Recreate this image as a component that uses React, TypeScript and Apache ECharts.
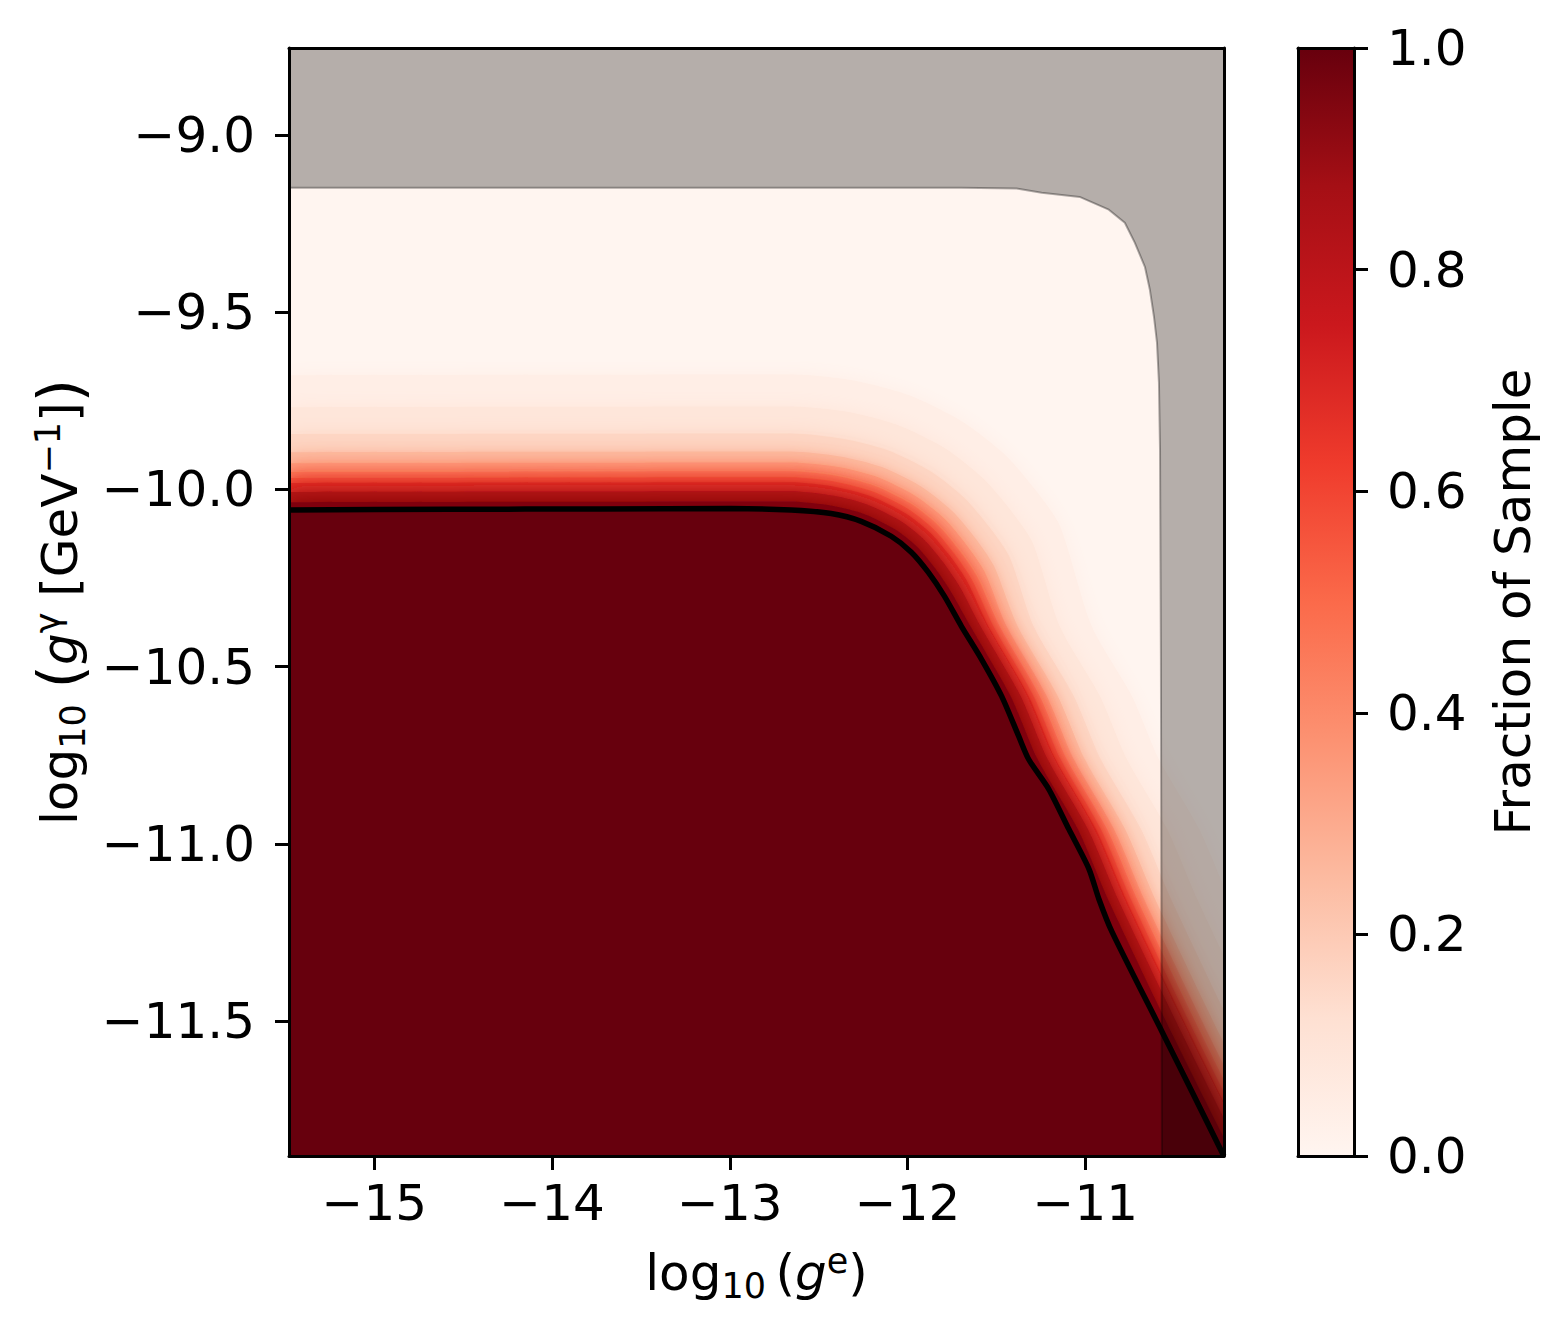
import React, { useEffect, useRef } from "react";
import * as echarts from "echarts";

const FONT = "DejaVu Sans";

// axis ranges and ticks
const X_MIN = -15.48;
const X_MAX = -10.22;
const Y_MIN = -11.88;
const Y_MAX = -8.755;
const xTicks = [-15, -14, -13, -12, -11];
const yTicks = [-11.5, -11.0, -10.5, -10.0, -9.5, -9.0];
const cbTicks = [0, 0.2, 0.4, 0.6, 0.8, 1.0];

// matplotlib "Reds" colour stops
const redsStops = ["#fff5f0", "#fee0d2", "#fcbba1", "#fc9272", "#fb6a4a", "#ef3b2c", "#cb181d", "#a50f15", "#67000d"];

// black contour: edge of the fully-covered region (fraction ~1)
const boundaryContour = [
  [-15.48, -10.058], [-14.573, -10.056], [-13.727, -10.055], [-12.994, -10.054], [-12.655, -10.058],
  [-12.43, -10.068], [-12.261, -10.09], [-12.092, -10.132], [-11.979, -10.177], [-11.883, -10.234],
  [-11.793, -10.301], [-11.697, -10.386], [-11.584, -10.479], [-11.471, -10.583], [-11.375, -10.696],
  [-11.319, -10.761], [-11.206, -10.845], [-11.093, -10.958], [-10.98, -11.07], [-10.924, -11.155],
  [-10.85, -11.248], [-10.568, -11.53], [-10.4, -11.699], [-10.221, -11.88],
];

// fraction contour levels
const levelValues = [0.02, 0.06, 0.12, 0.2, 0.3, 0.4, 0.5, 0.6, 0.75, 0.9];
// fraction of the band lying just below each level contour
const bandValues = [0.04, 0.09, 0.16, 0.25, 0.35, 0.45, 0.55, 0.675, 0.825, 0.95];

const contour002 = [
  [-15.48, -9.678], [-12.655, -9.676], [-12.312, -9.692], [-11.988, -9.735], [-11.691, -9.809], [-11.448, -9.904],
  [-11.274, -10.006], [-11.143, -10.103], [-10.964, -10.386], [-10.738, -10.583], [-10.586, -10.761],
  [-10.36, -10.958], [-10.191, -11.155], [-9.835, -11.53], [-9.488, -11.88],
];
const contour006 = [
  [-15.48, -9.768], [-12.655, -9.766], [-12.34, -9.781], [-12.053, -9.819], [-11.786, -9.885], [-11.574, -9.969],
  [-11.418, -10.06], [-11.297, -10.15], [-11.144, -10.386], [-10.918, -10.583], [-10.766, -10.761],
  [-10.54, -10.958], [-10.371, -11.155], [-10.015, -11.53], [-9.668, -11.88],
];
const contour012 = [
  [-15.48, -9.844], [-12.655, -9.842], [-12.364, -9.857], [-12.108, -9.89], [-11.866, -9.95], [-11.68, -10.024],
  [-11.54, -10.106], [-11.427, -10.19], [-11.291, -10.386], [-11.065, -10.583], [-10.913, -10.761],
  [-10.687, -10.958], [-10.518, -11.155], [-10.162, -11.53], [-9.815, -11.88],
];
const contour020 = [
  [-15.48, -9.895], [-12.655, -9.893], [-12.379, -9.907], [-12.144, -9.937], [-11.92, -9.993], [-11.751, -10.06],
  [-11.621, -10.136], [-11.514, -10.216], [-11.381, -10.386], [-11.155, -10.583], [-11.003, -10.761],
  [-10.777, -10.958], [-10.608, -11.155], [-10.252, -11.53], [-9.905, -11.88],
];
const contour030 = [
  [-15.48, -9.926], [-12.655, -9.924], [-12.389, -9.937], [-12.166, -9.966], [-11.952, -10.02], [-11.794, -10.082],
  [-11.671, -10.155], [-11.567, -10.232], [-11.443, -10.386], [-11.217, -10.583], [-11.065, -10.761],
  [-10.839, -10.958], [-10.67, -11.155], [-10.314, -11.53], [-9.967, -11.88],
];
const contour040 = [
  [-15.48, -9.951], [-12.655, -9.949], [-12.397, -9.962], [-12.184, -9.99], [-11.979, -10.041], [-11.83, -10.1],
  [-11.712, -10.17], [-11.61, -10.245], [-11.483, -10.386], [-11.257, -10.583], [-11.105, -10.761],
  [-10.879, -10.958], [-10.71, -11.155], [-10.354, -11.53], [-10.007, -11.88],
];
const contour050 = [
  [-15.48, -9.968], [-12.655, -9.966], [-12.402, -9.979], [-12.196, -10.006], [-11.997, -10.055], [-11.853, -10.112],
  [-11.739, -10.18], [-11.639, -10.254], [-11.517, -10.386], [-11.291, -10.583], [-11.139, -10.761],
  [-10.913, -10.958], [-10.744, -11.155], [-10.388, -11.53], [-10.041, -11.88],
];
const contour060 = [
  [-15.48, -9.982], [-12.655, -9.98], [-12.406, -9.993], [-12.207, -10.019], [-12.012, -10.067], [-11.873, -10.122],
  [-11.761, -10.188], [-11.663, -10.261], [-11.545, -10.386], [-11.319, -10.583], [-11.167, -10.761],
  [-10.941, -10.958], [-10.772, -11.155], [-10.416, -11.53], [-10.069, -11.88],
];
const contour075 = [
  [-15.48, -10.007], [-12.655, -10.005], [-12.414, -10.018], [-12.225, -10.043], [-12.039, -10.089], [-11.908, -10.141],
  [-11.802, -10.204], [-11.706, -10.275], [-11.59, -10.386], [-11.364, -10.583], [-11.212, -10.761],
  [-10.986, -10.958], [-10.817, -11.155], [-10.461, -11.53], [-10.114, -11.88],
];
const contour090 = [
  [-15.48, -10.036], [-12.655, -10.034], [-12.423, -10.046], [-12.245, -10.069], [-12.068, -10.113], [-11.948, -10.161],
  [-11.847, -10.221], [-11.755, -10.289], [-11.646, -10.386], [-11.42, -10.583], [-11.268, -10.761],
  [-11.042, -10.958], [-10.873, -11.155], [-10.517, -11.53], [-10.168, -11.88],
];
const levelContours = [
  contour002, contour006, contour012, contour020, contour030,
  contour040, contour050, contour060, contour075, contour090,
];

// edge of the excluded (grey) region
const greyBoundary = [
  [-15.48, -9.149], [-11.697, -9.149], [-11.387, -9.151], [-11.246, -9.163], [-11.032, -9.175],
  [-10.868, -9.211], [-10.778, -9.248], [-10.722, -9.304], [-10.665, -9.372], [-10.637, -9.437],
  [-10.614, -9.513], [-10.597, -9.586], [-10.586, -9.699], [-10.58, -9.887], [-10.575, -10.479],
  [-10.569, -11.88],
];

function hexToRgb(h: string) {
  return [parseInt(h.slice(1, 3), 16), parseInt(h.slice(3, 5), 16), parseInt(h.slice(5, 7), 16)];
}
function reds(v: number) {
  const t = Math.max(0, Math.min(1, v)) * 8;
  const i = Math.min(7, Math.floor(t));
  const f = t - i;
  const a = hexToRgb(redsStops[i]);
  const b = hexToRgb(redsStops[i + 1]);
  const c = a.map((av, k) => Math.round(av + (b[k] - av) * f));
  return `rgb(${c[0]},${c[1]},${c[2]})`;
}

const minus = (s: string) => s.replace("-", "\u2212");

const rich = {
  t: { fontSize: 50, fontFamily: FONT, color: "#000", lineHeight: 60, verticalAlign: "middle" },
  sp: { fontSize: 30, fontFamily: FONT, color: "#000", lineHeight: 30, verticalAlign: "middle" },
  it: { fontSize: 50, fontFamily: FONT, fontStyle: "italic", color: "#000", lineHeight: 60, verticalAlign: "middle" },
  par: { fontSize: 60, fontFamily: FONT, color: "#000", lineHeight: 60, verticalAlign: "middle" },
  sub: { fontSize: 35, fontFamily: FONT, color: "#000", lineHeight: 35, padding: [26, 0, 0, 0], verticalAlign: "middle" },
  sup: { fontSize: 35, fontFamily: FONT, color: "#000", lineHeight: 35, padding: [0, 0, 24, 0], verticalAlign: "middle" },
};

function buildOption() {
  const frameLine = { show: true, onZero: false, lineStyle: { color: "#000", width: 3 } };
  const labelStyle = { fontSize: 50, fontFamily: FONT, color: "#000" };

  const bandSeries = levelContours.map((data, i) => ({
    type: "line",
    name: `level ${levelValues[i]}`,
    xAxisIndex: 0,
    yAxisIndex: 0,
    z: 2,
    data,
    symbol: "none",
    showSymbol: false,
    smooth: 0.25,
    silent: true,
    lineStyle: { width: 0, opacity: 0 },
    areaStyle: {
      color: reds(bandValues[i]),
      opacity: 1,
      origin: "start",
      shadowBlur: 18,
      shadowColor: reds(bandValues[i]),
    },
  }));

  const greyPolygon = [[X_MIN, Y_MAX], ...greyBoundary, [X_MAX, Y_MIN], [X_MAX, Y_MAX]];

  return {
    animation: false,
    backgroundColor: "#fff",
    grid: [
      { left: 289, top: 48, width: 935, height: 1108, show: true, backgroundColor: reds(0), borderWidth: 0 },
      { left: 1298, top: 48, width: 56, height: 1108, show: false },
    ],
    xAxis: [
      {
        gridIndex: 0, type: "value", min: X_MIN, max: X_MAX, position: "bottom", z: 10,
        axisLine: frameLine,
        axisTick: { show: true, length: 14, inside: false, customValues: xTicks, lineStyle: { color: "#000", width: 3 } },
        axisLabel: { show: true, customValues: xTicks, margin: 22, formatter: (v: number) => minus(v.toFixed(0)), ...labelStyle },
        splitLine: { show: false },
        name: "{t|log}{sub|10}{sp| }{t|(}{it|g}{sup|e}{t|)}",
        nameLocation: "middle",
        nameGap: 87,
        nameTextStyle: { color: "#000", fontFamily: FONT, rich },
      },
      {
        gridIndex: 1, type: "value", min: 0, max: 1, position: "bottom", z: 10,
        axisLine: frameLine, axisTick: { show: false }, axisLabel: { show: false }, splitLine: { show: false },
      },
      {
        gridIndex: 0, type: "value", min: X_MIN, max: X_MAX, position: "top", z: 10,
        axisLine: frameLine, axisTick: { show: false }, axisLabel: { show: false }, splitLine: { show: false },
      },
      {
        gridIndex: 1, type: "value", min: 0, max: 1, position: "top", z: 10,
        axisLine: frameLine, axisTick: { show: false }, axisLabel: { show: false }, splitLine: { show: false },
      },
    ],
    yAxis: [
      {
        gridIndex: 0, type: "value", min: Y_MIN, max: Y_MAX, position: "left", z: 10,
        axisLine: frameLine,
        axisTick: { show: true, length: 14, inside: false, customValues: yTicks, lineStyle: { color: "#000", width: 3 } },
        axisLabel: { show: true, customValues: yTicks, margin: 34, formatter: (v: number) => minus(v.toFixed(1)), ...labelStyle },
        splitLine: { show: false },
        name: "{t|log}{sub|10}{t| }{par|(}{it|g}{sup|\u03b3}{t| [GeV}{sup|\u22121}{t|]}{par|)}",
        nameLocation: "middle",
        nameRotate: 90,
        nameGap: 193,
        nameTextStyle: { color: "#000", fontFamily: FONT, rich },
      },
      {
        gridIndex: 1, type: "value", min: 0, max: 1, interval: 0.2, position: "right", z: 10,
        axisLine: frameLine,
        axisTick: { show: true, length: 14, inside: false, lineStyle: { color: "#000", width: 3 } },
        axisLabel: { show: true, margin: 33, formatter: (v: number) => v.toFixed(1), ...labelStyle },
        splitLine: { show: false },
        name: "Fraction of Sample",
        nameLocation: "middle",
        nameRotate: 90,
        nameGap: 134,
        nameTextStyle: { fontSize: 50, fontFamily: FONT, color: "#000" },
      },
      {
        gridIndex: 0, type: "value", min: Y_MIN, max: Y_MAX, position: "right", z: 10,
        axisLine: frameLine, axisTick: { show: false }, axisLabel: { show: false }, splitLine: { show: false },
      },
      {
        gridIndex: 1, type: "value", min: 0, max: 1, position: "left", z: 10,
        axisLine: frameLine, axisTick: { show: false }, axisLabel: { show: false }, splitLine: { show: false },
      },
    ],
    series: [
      ...bandSeries,
      {
        type: "line",
        name: "full coverage",
        xAxisIndex: 0,
        yAxisIndex: 0,
        z: 2,
        data: boundaryContour,
        symbol: "none",
        showSymbol: false,
        smooth: 0.25,
        silent: true,
        lineStyle: { width: 0, opacity: 0 },
        areaStyle: { color: reds(1), opacity: 1, origin: "start" },
      },
      {
        type: "line",
        name: "contour",
        xAxisIndex: 0,
        yAxisIndex: 0,
        z: 3,
        data: boundaryContour,
        symbol: "none",
        showSymbol: false,
        smooth: 0.25,
        silent: true,
        lineStyle: { color: "#000", width: 5.5 },
      },
      {
        type: "custom",
        name: "excluded",
        xAxisIndex: 0,
        yAxisIndex: 0,
        z: 4,
        clip: true,
        silent: true,
        data: [[X_MIN, Y_MIN]],
        renderItem: (_params: any, api: any) => ({
          type: "polygon",
          shape: { points: greyPolygon.map((p) => api.coord(p)) },
          style: { fill: "rgba(0,0,0,0.29)" },
        }),
      },
      {
        type: "line",
        name: "excluded edge",
        xAxisIndex: 0,
        yAxisIndex: 0,
        z: 5,
        data: greyBoundary,
        symbol: "none",
        showSymbol: false,
        silent: true,
        lineStyle: { color: "rgba(0,0,0,0.32)", width: 2 },
      },
      {
        type: "custom",
        name: "colorbar",
        xAxisIndex: 1,
        yAxisIndex: 1,
        silent: true,
        data: [[0, 0]],
        renderItem: (_params: any, api: any) => {
          const p0 = api.coord([0, cbTicks[0]]);
          const p1 = api.coord([1, cbTicks[cbTicks.length - 1]]);
          return {
            type: "rect",
            shape: { x: p0[0], y: p1[1], width: p1[0] - p0[0], height: p0[1] - p1[1] },
            style: {
              fill: new echarts.graphic.LinearGradient(
                0, 1, 0, 0,
                redsStops.map((c, i) => ({ offset: i / (redsStops.length - 1), color: c }))
              ),
            },
          };
        },
      },
    ],
  };
}

export default function App() {
  const ref = useRef<HTMLDivElement>(null);
  useEffect(() => {
    if (!ref.current) return;
    const chart = echarts.init(ref.current, undefined, { renderer: "svg" });
    chart.setOption(buildOption() as any);
    return () => chart.dispose();
  }, []);
  return (
    <div
      ref={ref}
      style={{ position: "absolute", left: 0, top: 0, width: 1557, height: 1334, background: "#fff" }}
    />
  );
}
